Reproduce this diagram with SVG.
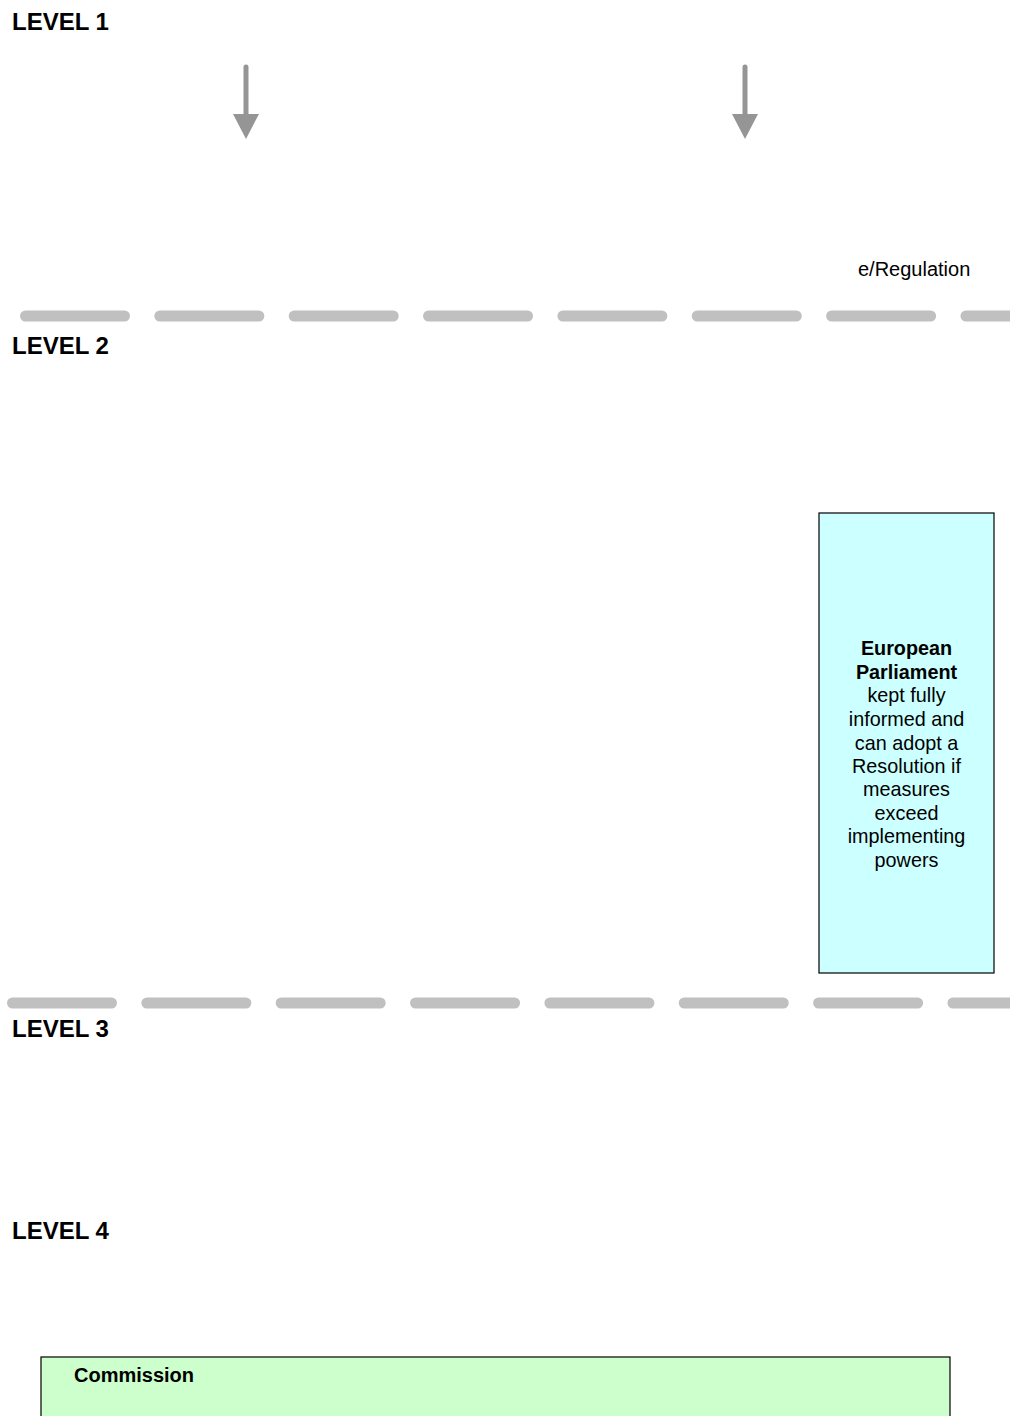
<svg xmlns="http://www.w3.org/2000/svg" width="1010" height="1416" viewBox="0 0 1010 1416">
<style>
.lvl{font-family:"Liberation Sans",Arial,sans-serif;font-weight:bold;font-size:24px;fill:#000}
.txt{font-family:"Liberation Sans",Arial,sans-serif;font-size:19.8px;fill:#000}
.b{font-weight:bold}
.dash{stroke:#c0c0c0;stroke-width:11;stroke-linecap:round;fill:none;stroke-dasharray:99 35.35}
.arr{stroke:#959595;stroke-width:5;stroke-linecap:round;fill:none}
</style>
<rect width="1010" height="1416" fill="#fff"/>
<g id="separators">
<line class="dash" x1="25.5" y1="316" x2="1020" y2="316"/>
<line class="dash" x1="12.5" y1="1003" x2="1020" y2="1003"/>
</g>
<g id="labels">
<text class="lvl" x="12" y="30">LEVEL 1</text>
<text class="lvl" x="12" y="354">LEVEL 2</text>
<text class="lvl" x="12" y="1037">LEVEL 3</text>
<text class="lvl" x="12" y="1239">LEVEL 4</text>
<text class="txt" x="858" y="276" style="font-size:20px">e/Regulation</text>
</g>
<g id="connectors">
<line class="arr" x1="246" y1="67" x2="246" y2="116"/>
<polygon points="233,114 259,114 246,139" fill="#959595"/>
<line class="arr" x1="745" y1="67" x2="745" y2="116"/>
<polygon points="732,114 758,114 745,139" fill="#959595"/>
</g>
<g id="european-parliament">
<rect x="819" y="513" width="175" height="460" fill="#ccffff" stroke="#000" stroke-width="1.2"/>
<text class="txt" text-anchor="middle" x="906.5"><tspan class="b" x="906.5" y="655">European</tspan><tspan class="b" x="906.5" y="679">Parliament</tspan><tspan x="906.5" y="702">kept fully</tspan><tspan x="906.5" y="726">informed and</tspan><tspan x="906.5" y="750">can adopt a</tspan><tspan x="906.5" y="773">Resolution if</tspan><tspan x="906.5" y="796">measures</tspan><tspan x="906.5" y="820">exceed</tspan><tspan x="906.5" y="843">implementing</tspan><tspan x="906.5" y="867">powers</tspan></text>
</g>
<g id="commission">
<rect x="41" y="1357" width="909" height="80" fill="#ccffcc" stroke="#000" stroke-width="1.2"/>
<text class="txt b" x="74" y="1382" style="font-size:20px">Commission</text>
</g>
</svg>
